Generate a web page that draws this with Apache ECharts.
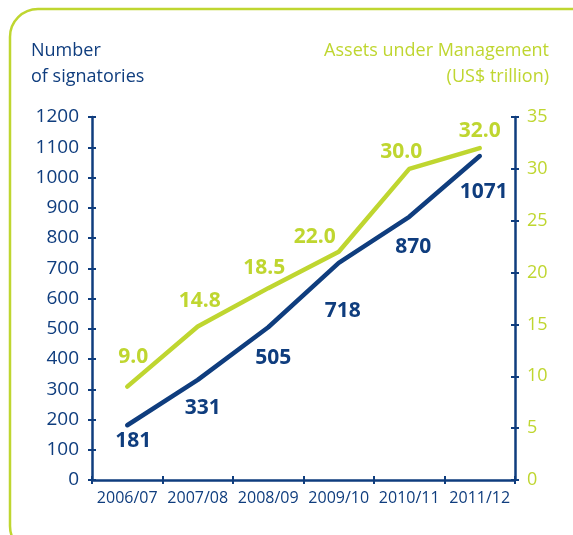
<!DOCTYPE html>
<html>
<head>
<meta charset="utf-8">
<script src="https://cdn.jsdelivr.net/npm/echarts@6/dist/echarts.min.js"></script>
<style>html,body{margin:0;padding:0;background:#fff;}#c{width:573px;height:535px;}</style>
</head>
<body>
<div id="c"></div>
<script>
var categories = ['2006/07', '2007/08', '2008/09', '2009/10', '2010/11', '2011/12'];
var signatories = [181, 331, 505, 718, 870, 1071];
var assets = [9.0, 14.8, 18.5, 22.0, 30.0, 32.0];
var assetLabels = ['9.0', '14.8', '18.5', '22.0', '30.0', '32.0'];

var blueLabelOffsets = [[6, 16], [5, 28], [5, 31], [4, 48], [4, 30], [4, 36]];
var greenLabelOffsets = [[6, -30], [2, -25], [-4, -20], [-24, -15], [-8, -17], [0, -17]];

var BLUE = '#0f3d7e';
var GREEN = '#bfd630';
var FONT = 'Open Sans';

var chart = echarts.init(document.getElementById('c'), null, {renderer: 'canvas'});

var blueData = signatories.map(function (v, i) {
  return {value: v, label: {offset: blueLabelOffsets[i]}};
});
var greenData = assets.map(function (v, i) {
  return {value: v, label: {offset: greenLabelOffsets[i], formatter: assetLabels[i]}};
});

var yCommon = function (pos, max, interval, color, inside) {
  return {
    type: 'value', position: pos, min: 0, max: max, interval: interval,
    splitLine: {show: false},
    axisLine: {show: !inside, lineStyle: {color: BLUE, width: 2.5}},
    axisTick: {show: true, inside: inside, length: 4, lineStyle: {color: BLUE, width: 2}},
    axisLabel: {show: !inside, color: color, fontFamily: FONT, fontSize: pos === 'left' ? 19 : 18, margin: pos === 'left' ? 13 : 12,
      formatter: function (v) { return String(v); }}
  };
};

chart.setOption({
  animation: false,
  grid: {left: 92, right: 58, top: 117, bottom: 55},
  graphic: [
    {type: 'rect', shape: {x: 10, y: 9, width: 590, height: 545, r: 28}, style: {fill: 'none', stroke: GREEN, lineWidth: 2.5}, z: -1},
    {type: 'text', left: 31, top: 38, style: {text: 'Number\nof signatories', fill: BLUE, font: '18px "Open Sans"', lineHeight: 26}},
    {type: 'text', right: 24, top: 38, style: {text: 'Assets under Management', fill: GREEN, font: '18px "Open Sans"', lineHeight: 26}},
    {type: 'text', right: 24, top: 64, style: {text: '(US$ trillion)', fill: GREEN, font: '18px "Open Sans"', lineHeight: 26}}
  ],
  xAxis: [
    {
      type: 'category', data: categories, boundaryGap: true,
      axisLine: {lineStyle: {color: BLUE, width: 2.5}},
      axisTick: {show: true, length: 4, lineStyle: {color: BLUE, width: 2}},
      axisLabel: {color: BLUE, fontFamily: FONT, fontSize: 16, margin: 10, interval: 0}
    },
    {
      type: 'category', data: categories, boundaryGap: true, position: 'bottom',
      axisLine: {show: false},
      axisTick: {show: true, inside: true, length: 4, lineStyle: {color: BLUE, width: 2}},
      axisLabel: {show: false}
    }
  ],
  yAxis: [
    yCommon('left', 1200, 100, BLUE, false),
    yCommon('right', 35, 5, GREEN, false),
    yCommon('left', 1200, 100, BLUE, true),
    yCommon('right', 35, 5, GREEN, true)
  ],
  series: [
    {
      type: 'line', name: 'Signatories', data: blueData, xAxisIndex: 0, yAxisIndex: 0,
      symbol: 'circle', symbolSize: 1, itemStyle: {color: BLUE},
      lineStyle: {color: BLUE, width: 4.5, cap: 'round'},
      label: {show: true, position: 'inside', color: BLUE, fontFamily: FONT, fontWeight: 'bold', fontSize: 21}
    },
    {
      type: 'line', name: 'Assets', data: greenData, xAxisIndex: 0, yAxisIndex: 1,
      symbol: 'circle', symbolSize: 1, itemStyle: {color: GREEN},
      lineStyle: {color: GREEN, width: 4.5, cap: 'round'},
      label: {show: true, position: 'inside', color: GREEN, fontFamily: FONT, fontWeight: 'bold', fontSize: 21}
    }
  ]
});
</script>
</body>
</html>
